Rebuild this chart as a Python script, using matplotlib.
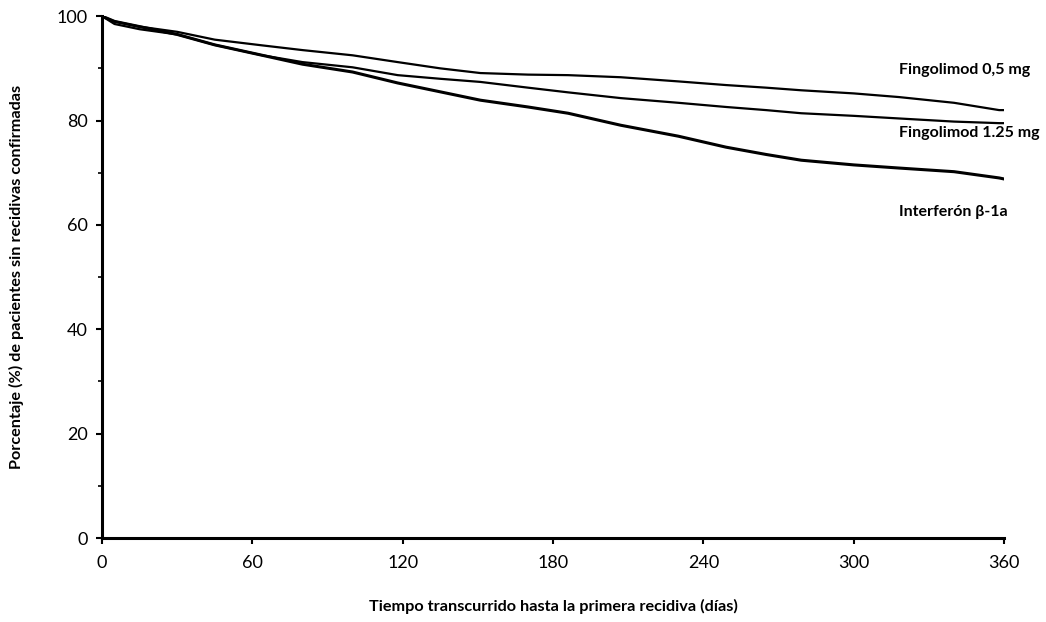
import numpy as np
import matplotlib
matplotlib.use("Agg")
import matplotlib.pyplot as plt
from matplotlib.ticker import MultipleLocator

# dias
days = [0, 5, 15, 30, 45, 64, 80, 100, 118, 135, 151, 170, 186, 207, 230, 249, 265, 279, 300, 318, 340, 358, 360]

fingo_05 = [100, 99, 98, 97, 95.5, 94.4, 93.5, 92.5, 91.2, 90, 89.1, 88.8, 88.7, 88.3, 87.5, 86.8, 86.3, 85.8, 85.2, 84.5, 83.4, 82, 82]
fingo_125 = [100, 98.5, 97.5, 96.5, 94.5, 92.5, 91.2, 90.2, 88.7, 88, 87.4, 86.3, 85.4, 84.3, 83.4, 82.6, 82, 81.4, 80.9, 80.4, 79.8, 79.5, 79.5]
interferon = [100, 99, 98, 96.5, 94.5, 92.5, 90.8, 89.3, 87.2, 85.5, 83.9, 82.6, 81.4, 79.1, 77, 74.9, 73.5, 72.4, 71.5, 70.9, 70.2, 69, 68.8]

labels = ["Fingolimod 0,5 mg", "Fingolimod 1.25 mg", "Interferón β-1a"]
label_y = [89.7, 77.6, 62.5]

plt.rcParams['font.family'] = ['Lato', 'DejaVu Sans']

fig = plt.figure(figsize=(10.46, 6.22), dpi=100)
ax = fig.add_axes([0.0975, 0.135, 0.8625, 0.839])

ax.plot(days, fingo_05, color='black', lw=1.6)
ax.plot(days, fingo_125, color='black', lw=1.6)
ax.plot(days, interferon, color='black', lw=2.2)

for t, y in zip(labels, label_y):
    ax.text(318, y, t, fontsize=11.5, fontweight='bold', va='center', ha='left')

ax.set_xlim(0, 360)
ax.set_ylim(0, 100)
ax.set_xticks(np.arange(0, 361, 60))
ax.set_yticks(np.arange(0, 101, 20))
ax.yaxis.set_minor_locator(MultipleLocator(10))
ax.tick_params(axis='both', labelsize=13, width=1.5, length=4)
ax.tick_params(axis='x', pad=8)
ax.tick_params(axis='y', pad=6)
ax.tick_params(axis='y', which='minor', length=3, width=1.2)
for s in ['top', 'right']:
    ax.spines[s].set_visible(False)
for s in ['left', 'bottom']:
    ax.spines[s].set_linewidth(2.2)

ax.set_xlabel("Tiempo transcurrido hasta la primera recidiva (días)", fontsize=11.7, fontweight='bold', labelpad=20)
ax.set_ylabel("Porcentaje (%) de pacientes sin recidivas confirmadas", fontsize=11.7, fontweight='bold', labelpad=24)

fig.savefig("out.png", dpi=100)
